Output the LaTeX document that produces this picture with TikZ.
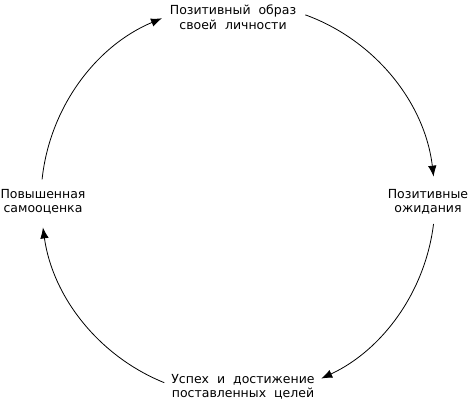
\documentclass[tikz,border=0pt]{standalone}
\usepackage{fontspec}
\setmainfont{DejaVu Sans}
\usetikzlibrary{arrows.meta}
\begin{document}
\begin{tikzpicture}[x=1pt,y=1pt,
  lbl/.style={align=center,inner sep=0pt,font=\fontsize{12.5}{14.5}\selectfont},
  cyc/.style={line width=0.8pt,-{Latex[length=11pt,width=8.5pt]}}]
\useasboundingbox (0,0) rectangle (469,401);
\coordinate (c) at (238,201);
\node[lbl] (top) at (233,384) {Позитивный\ \ образ\\своей\ \ личности};
\node[lbl] (right) at (428,199) {Позитивные\\ожидания};
\node[lbl] (bot) at (243,14) {Успех\ \ и\ \ достижение\\поставленных\ \ целей};
\node[lbl] (left) at (43,199) {Повышенная\\самооценка};
\coordinate (s1) at ([shift={(174:197pt)}]c);
\coordinate (s2) at ([shift={(70:197pt)}]c);
\coordinate (s3) at ([shift={(-7:197pt)}]c);
\coordinate (s4) at ([shift={(-112:197pt)}]c);
\draw[cyc] (s1) arc[start angle=174,end angle=112.7,radius=197pt];
\draw[cyc] (s2) arc[start angle=70,end angle=6.8,radius=197pt];
\draw[cyc] (s3) arc[start angle=-7,end angle=-65,radius=197pt];
\draw[cyc] (s4) arc[start angle=-112,end angle=-172,radius=197pt];
\end{tikzpicture}
\end{document}
